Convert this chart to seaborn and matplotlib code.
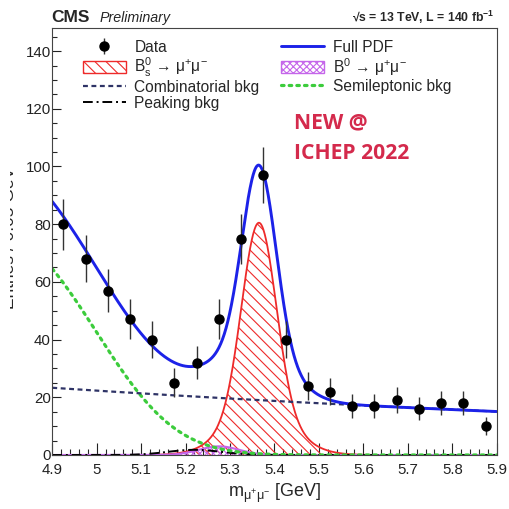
import math
import numpy as np
import pandas as pd
import matplotlib
matplotlib.use("Agg")
import matplotlib.pyplot as plt
import seaborn as sns
from matplotlib.lines import Line2D
from matplotlib.patches import Patch
from matplotlib.ticker import MultipleLocator, FuncFormatter
from matplotlib.transforms import Bbox, TransformedBbox

# ---------------- data ----------------
bin_centers = [4.925, 4.975, 5.025, 5.075, 5.125, 5.175, 5.225, 5.275, 5.325, 5.375,
               5.425, 5.475, 5.525, 5.575, 5.625, 5.675, 5.725, 5.775, 5.825, 5.875]
counts = [80, 68, 57, 47, 40, 25, 32, 47, 75, 97,
          40, 24, 22, 17, 17, 19, 16, 18, 18, 10]
count_errors = [8.9, 8.2, 7.5, 6.9, 6.3, 5.0, 5.7, 6.9, 8.7, 9.8,
                6.3, 4.9, 4.7, 4.1, 4.1, 4.4, 4.0, 4.2, 4.2, 3.2]

# fit-model component parameters
bs_mean, bs_core_amp, bs_core_sigma, bs_wide_amp, bs_wide_sigma = 5.365, 65.0, 0.038, 15.5, 0.072
b0_mean, b0_amp, b0_sigma = 5.275, 3.0, 0.045
peak_mean, peak_amp, peak_sigma = 5.22, 1.8, 0.06
comb_amp, comb_slope = 23.3, 0.436
semi_amp, semi_mu, semi_s = 85.0, 5.0, 0.142

x_ticks = [4.9, 5.0, 5.1, 5.2, 5.3, 5.4, 5.5, 5.6, 5.7, 5.8, 5.9]
y_ticks = [0, 20, 40, 60, 80, 100, 120, 140]

# ---------------- model curves ----------------
m = np.linspace(4.9, 5.9, 1001)
erfc_v = np.vectorize(math.erfc)
gauss = lambda x, mu, s: np.exp(-0.5 * ((x - mu) / s) ** 2)
bs = bs_core_amp * gauss(m, bs_mean, bs_core_sigma) + bs_wide_amp * gauss(m, bs_mean, bs_wide_sigma)
b0 = b0_amp * gauss(m, b0_mean, b0_sigma)
peak = peak_amp * gauss(m, peak_mean, peak_sigma)
comb = comb_amp * np.exp(-comb_slope * (m - 4.9))
semi = semi_amp * 0.5 * erfc_v((m - semi_mu) / (np.sqrt(2) * semi_s))
full = bs + b0 + peak + comb + semi

df = pd.DataFrame({"m": m, "bs": bs, "b0": b0, "peak": peak, "comb": comb, "semi": semi, "full": full})

# ---------------- style ----------------
sns.set_style("ticks")
plt.rcParams["font.family"] = ["Liberation Sans", "DejaVu Sans"]
plt.rcParams["mathtext.fontset"] = "custom"
plt.rcParams["mathtext.rm"] = "Liberation Sans"
plt.rcParams["mathtext.it"] = "Liberation Sans:italic"
plt.rcParams["mathtext.bf"] = "Liberation Sans:bold"
plt.rcParams["hatch.linewidth"] = 0.8

fig = plt.figure(figsize=(5.10, 5.09), dpi=100)
ax = fig.add_axes([0.1025, 0.1061, 0.8714, 0.8389])

RED = "#ee2a2a"
VIOLET = "#c566ea"
BLUE = "#1c22e8"
NAVY = "#2e3366"
GREEN = "#3ccc3c"

# signal fills
ax.fill_between(m, 0, bs, facecolor="none", edgecolor=RED, hatch="\\\\\\", linewidth=0)
ax.fill_between(m, 0, b0, facecolor="none", edgecolor=VIOLET, hatch="xxxxx", linewidth=0)

sns.lineplot(data=df, x="m", y="bs", ax=ax, color=RED, lw=1.3)
sns.lineplot(data=df, x="m", y="b0", ax=ax, color=VIOLET, lw=1.5)
sns.lineplot(data=df, x="m", y="peak", ax=ax, color="black", lw=1.4, linestyle=(0, (5, 2, 1, 2)))
sns.lineplot(data=df, x="m", y="semi", ax=ax, color=GREEN, lw=2.3, linestyle=(0, (0.8, 1.6)),
             dash_capstyle="round")
sns.lineplot(data=df, x="m", y="comb", ax=ax, color=NAVY, lw=1.6, linestyle=(0, (2.2, 1.6)))
sns.lineplot(data=df, x="m", y="full", ax=ax, color=BLUE, lw=2.1)

eb = ax.errorbar(bin_centers, counts, yerr=count_errors, fmt="o", color="black",
                 ms=6.5, ecolor="#333333", elinewidth=1.0, capsize=0, zorder=5)

ax.set_xlim(4.9, 5.9)
ax.set_ylim(0, 148)
ax.set_xticks(x_ticks)
ax.set_yticks(y_ticks)
ax.xaxis.set_minor_locator(MultipleLocator(0.02))
ax.yaxis.set_minor_locator(MultipleLocator(5))
ax.xaxis.set_major_formatter(FuncFormatter(lambda v, p: "%g" % round(v, 2)))
ax.tick_params(axis="x", which="major", direction="in", length=8.6, width=0.8, labelsize=10.8, pad=5.5)
ax.tick_params(axis="x", which="minor", direction="in", length=4.3, width=0.8)
ax.tick_params(axis="y", which="major", direction="in", length=6.5, width=0.8, labelsize=10.8, pad=1)
ax.tick_params(axis="y", which="minor", direction="in", length=3.6, width=0.8)
ax.tick_params(colors="#222222")
for s in ax.spines.values():
    s.set_linewidth(0.8)
    s.set_color("#444444")
ax.set_xlabel(r"m$_{\mathrm{\mu^{+}\mu^{-}}}$ [GeV]", fontsize=13, labelpad=3.5)
ax.set_ylabel("")

# y label: only its right part is visible in the reference
yl = fig.text(1.5 / 510, 1 - 238 / 509, "Entries / 0.05 GeV", rotation=90, fontsize=12.5,
              ha="left", va="center")
yl.set_clip_box(TransformedBbox(Bbox([[10.0 / 510, 0], [40 / 510, 1]]), fig.transFigure))
yl.set_clip_on(True)

# header texts
fig.text(51.5 / 510, 1 - 22 / 509, "CMS", fontsize=12.5, fontweight="bold", ha="left", va="baseline")
fig.text(100 / 510, 1 - 22 / 509, "Preliminary", fontsize=10.3, fontstyle="italic", ha="left", va="baseline")
fig.text(494 / 510, 1 - 22 / 509, "√s = 13 TeV, L = 140 fb$^{\\mathbf{-1}}$",
         fontsize=8.8, fontweight="bold", ha="right", va="baseline")

# NEW @ ICHEP
ax.text(0.545, 0.764, "NEW @", transform=ax.transAxes, fontsize=15.2, fontweight="bold",
        color="#d42a4c", ha="left", va="baseline", family=["Open Sans", "DejaVu Sans"])
ax.text(0.545, 0.694, "ICHEP 2022", transform=ax.transAxes, fontsize=15.2, fontweight="bold",
        color="#d42a4c", ha="left", va="baseline", family=["Open Sans", "DejaVu Sans"])

# legend
h_data = eb
h_bs = Patch(facecolor="white", edgecolor=RED, hatch="\\\\\\", lw=1.0)
h_comb = Line2D([], [], color=NAVY, lw=1.6, linestyle=(0, (2.2, 1.6)))
h_peak = Line2D([], [], color="black", lw=1.4, linestyle=(0, (5, 2, 1, 2)))
h_full = Line2D([], [], color=BLUE, lw=2.1)
h_b0 = Patch(facecolor="white", edgecolor=VIOLET, hatch="xxxxx", lw=1.0)
h_semi = Line2D([], [], color=GREEN, lw=2.3, linestyle=(0, (0.8, 1.6)), dash_capstyle="round")
labels = ["Data", r"B$_{\mathrm{s}}^{0}$ → $\mathrm{\mu^{+}\mu^{-}}$", "Combinatorial bkg", "Peaking bkg",
          "Full PDF", r"B$^{0}$ → $\mathrm{\mu^{+}\mu^{-}}$", "Semileptonic bkg"]
leg = ax.legend([h_data, h_bs, h_comb, h_peak, h_full, h_b0, h_semi], labels, ncol=2,
                loc="upper left", bbox_to_anchor=(0.069, 0.972), frameon=False, fontsize=11.2,
                handlelength=2.75, handleheight=0.85, handletextpad=0.55, labelspacing=0.06,
                columnspacing=1.42, borderpad=0, borderaxespad=0)

fig.savefig("out.png", dpi=100)
